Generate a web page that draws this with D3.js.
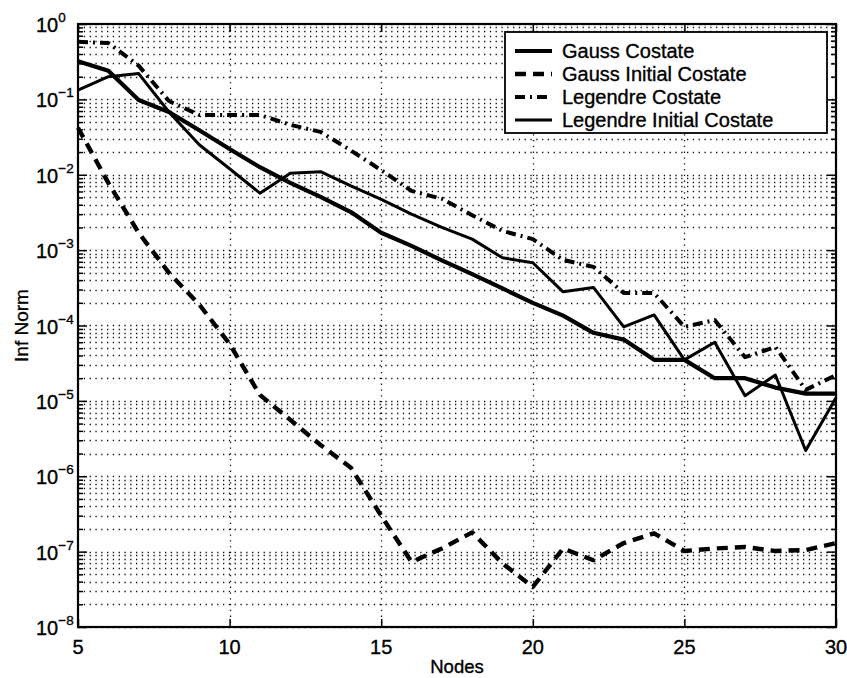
<!DOCTYPE html>
<html>
<head>
<meta charset="utf-8">
<script src="https://cdn.jsdelivr.net/npm/d3@7"></script>
<style>
  body { margin: 0; background: #fff; }
  svg { font-family: "Liberation Sans", Arial, Helvetica, sans-serif; }
  svg text { stroke: #000; stroke-width: 0.35px; }
</style>
</head>
<body>
<div id="chart"></div>
<script>
// node counts on the x axis
const nodes = [5, 6, 7, 8, 9, 10, 11, 12, 13, 14, 15, 16, 17, 18, 19, 20, 21, 22, 23, 24, 25, 26, 27, 28, 29, 30];

const gaussCostate = [0.32, 0.24, 0.098, 0.068, 0.039, 0.022, 0.0126, 0.0078, 0.0051, 0.0032, 0.0017, 0.00114,
  7.3e-4, 4.8e-4, 3.1e-4, 2.0e-4, 1.35e-4, 8e-5, 6.5e-5, 3.5e-5, 3.5e-5, 2.0e-5, 2.0e-5, 1.5e-5, 1.25e-5, 1.25e-5];

const gaussInitialCostate = [0.042, 0.0078, 0.0017, 5.0e-4, 1.9e-4, 5.7e-5, 1.2e-5, 5.6e-6, 2.6e-6, 1.3e-6, 3.0e-7, 7.3e-8,
  1.1e-7, 1.8e-7, 7.0e-8, 3.4e-8, 1.1e-7, 7.7e-8, 1.3e-7, 1.75e-7, 1.02e-7, 1.1e-7, 1.15e-7, 1.02e-7, 1.05e-7, 1.3e-7];

const legendreCostate = [0.58, 0.56, 0.28, 0.095, 0.062, 0.062, 0.062, 0.046, 0.037, 0.021, 0.0115, 0.0061,
  0.0048, 0.0029, 0.0018, 0.0014, 7.4e-4, 6.0e-4, 2.7e-4, 2.7e-4, 9.6e-5, 1.18e-4, 3.8e-5, 5.2e-5, 1.4e-5, 2.2e-5];

const legendreInitialCostate = [0.133, 0.20, 0.22, 0.068, 0.025, 0.012, 0.0057, 0.0105, 0.011, 0.0071, 0.0047, 0.003,
  0.002, 0.0014, 7.9e-4, 6.8e-4, 2.8e-4, 3.2e-4, 9.6e-5, 1.38e-4, 3.5e-5, 6.0e-5, 1.17e-5, 2.2e-5, 2.2e-6, 1.1e-5];

const xTicks = [5, 10, 15, 20, 25, 30];
const yExponents = [0, -1, -2, -3, -4, -5, -6, -7, -8];

const seriesNames = ['Gauss Costate', 'Gauss Initial Costate', 'Legendre Costate', 'Legendre Initial Costate'];
const seriesValues = [gaussCostate, gaussInitialCostate, legendreCostate, legendreInitialCostate];
const seriesStyle = [
  { width: 4.2, dash: null },
  { width: 4.4, dash: '11,7' },
  { width: 4, dash: '10,5,2,5' },
  { width: 3, dash: null }
];

const W = 847, H = 678;
const margin = { top: 24, right: 11, bottom: 51, left: 78 };
const width = W - margin.left - margin.right;
const height = H - margin.top - margin.bottom;

const x = d3.scaleLinear().domain([5, 30]).range([0, width]);
const y = d3.scaleLog().domain([1e-8, 1]).range([height, 0]);

const svg = d3.select('#chart').append('svg')
  .attr('width', W)
  .attr('height', H);

const g = svg.append('g')
  .attr('transform', 'translate(' + margin.left + ',' + margin.top + ')');

// dotted grid, every log tick plus the inner x ticks
const yGrid = y.ticks();
g.append('g').selectAll('line')
  .data(yGrid)
  .enter().append('line')
  .attr('x1', 0).attr('x2', width)
  .attr('y1', d => Math.round(y(d)) + 0.5).attr('y2', d => Math.round(y(d)) + 0.5)
  .attr('stroke', '#111')
  .attr('stroke-width', 1.3)
  .attr('stroke-dasharray', '1.3,4.5');

g.append('g').selectAll('line')
  .data(xTicks.slice(1, -1))
  .enter().append('line')
  .attr('x1', d => Math.round(x(d)) + 0.5).attr('x2', d => Math.round(x(d)) + 0.5)
  .attr('y1', 0).attr('y2', height)
  .attr('stroke', '#111')
  .attr('stroke-width', 1.3)
  .attr('stroke-dasharray', '1.3,4.5');

// series
const line = d3.line()
  .x((d, i) => x(nodes[i]))
  .y(d => y(d));

seriesValues.forEach((vals, i) => {
  g.append('path')
    .datum(vals)
    .attr('fill', 'none')
    .attr('stroke', '#000')
    .attr('stroke-width', seriesStyle[i].width)
    .attr('stroke-linejoin', 'round')
    .attr('stroke-dasharray', seriesStyle[i].dash)
    .attr('d', line);
});

// inward ticks on all four sides
const majors = yExponents.map(e => Math.pow(10, e));
const minors = yGrid.filter(v => !majors.some(m => Math.abs(Math.log10(v) - Math.log10(m)) < 1e-9));

g.append('g').call(d3.axisLeft(y).tickValues(minors).tickSizeInner(-5).tickSizeOuter(0).tickFormat(''));
g.append('g').call(d3.axisLeft(y).tickValues(majors).tickSizeInner(-9).tickSizeOuter(0).tickFormat(''));
g.append('g').attr('transform', 'translate(' + width + ',0)')
  .call(d3.axisRight(y).tickValues(minors).tickSizeInner(-5).tickSizeOuter(0).tickFormat(''));
g.append('g').attr('transform', 'translate(' + width + ',0)')
  .call(d3.axisRight(y).tickValues(majors).tickSizeInner(-9).tickSizeOuter(0).tickFormat(''));
g.append('g').attr('transform', 'translate(0,' + height + ')')
  .call(d3.axisBottom(x).tickValues(xTicks).tickSizeInner(-8).tickSizeOuter(0).tickFormat(''));
g.append('g')
  .call(d3.axisTop(x).tickValues(xTicks).tickSizeInner(-8).tickSizeOuter(0).tickFormat(''));
g.selectAll('.domain').remove();
g.selectAll('.tick line').attr('stroke', '#000').attr('stroke-width', 1.5);

// box
g.append('rect')
  .attr('width', width).attr('height', height)
  .attr('fill', 'none')
  .attr('stroke', '#000')
  .attr('stroke-width', 2.2);

// y tick labels 10^n
const yLab = g.append('g');
yExponents.forEach(e => {
  const t = yLab.append('text')
    .attr('x', -42)
    .attr('y', y(Math.pow(10, e)) + 8)
    .style('font-size', '20px');
  t.append('tspan').text('10');
  t.append('tspan')
    .attr('dy', -10)
    .style('font-size', '13.5px')
    .text(e === 0 ? '0' : '\u2212' + Math.abs(e));
});

// x tick labels
g.append('g').selectAll('text')
  .data(xTicks)
  .enter().append('text')
  .attr('x', d => x(d))
  .attr('y', height + 27)
  .style('text-anchor', 'middle')
  .style('font-size', '20px')
  .text(d => d);

// axis titles
g.append('text')
  .attr('x', width / 2)
  .attr('y', height + 46)
  .style('text-anchor', 'middle')
  .style('font-size', '18.5px')
  .text('Nodes');

g.append('text')
  .attr('transform', 'rotate(-90)')
  .attr('x', -height / 2)
  .attr('y', -50)
  .style('text-anchor', 'middle')
  .style('font-size', '19px')
  .text('Inf Norm');

// legend
const lg = svg.append('g').attr('transform', 'translate(505,32)');
lg.append('rect')
  .attr('width', 322).attr('height', 101)
  .attr('fill', '#fff')
  .attr('stroke', '#000')
  .attr('stroke-width', 1.8);

seriesNames.forEach((name, i) => {
  const cy = 19 + i * 23;
  lg.append('line')
    .attr('x1', 10).attr('x2', 47)
    .attr('y1', cy).attr('y2', cy)
    .attr('stroke', '#000')
    .attr('stroke-width', seriesStyle[i].width)
    .attr('stroke-dasharray', seriesStyle[i].dash);
  lg.append('text')
    .attr('x', 57)
    .attr('y', cy + 7)
    .style('font-size', '20px')
    .text(name);
});
</script>
</body>
</html>
